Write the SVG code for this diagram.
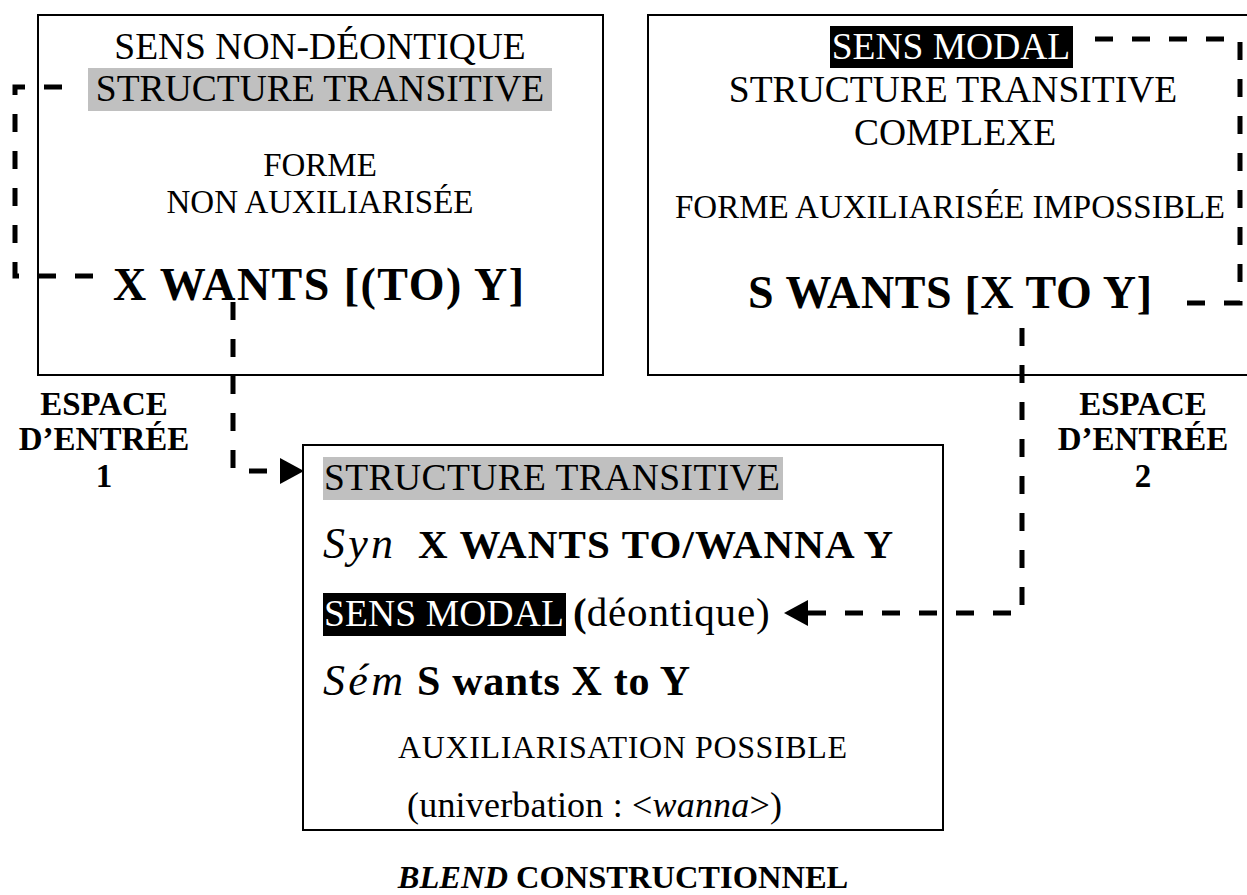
<svg xmlns="http://www.w3.org/2000/svg" width="1247" height="895" viewBox="0 0 1247 895">
  <style>
    text { font-family: "Liberation Serif", "Times New Roman", serif; fill: #000; }
    .box { fill: #fff; stroke: #000; stroke-width: 2; }
    .c { text-anchor: middle; }
    .r37 { font-size: 37.5px; }
    .r33 { font-size: 33px; }
    .big { font-size: 46px; font-weight: bold; }
    .hlg { fill: #c0c0c0; }
    .hlb { fill: #000; }
    .w { fill: #fff; }
    .lbl { font-size: 33px; font-weight: bold; text-anchor: middle; }
    .dash { fill: none; stroke: #000; stroke-width: 5; stroke-dasharray: 18 19; }
  </style>
  <defs>
    <marker id="arr" markerUnits="userSpaceOnUse" markerWidth="26" markerHeight="28" refX="0" refY="13" orient="auto">
      <path d="M0,0 L24,13 L0,26 z" fill="#000"/>
    </marker>
    <clipPath id="clip3">
      <rect x="303" y="445" width="640" height="381"/>
    </clipPath>
  </defs>

  <g id="espace1">
    <rect class="box" x="38" y="15" width="565" height="360"/>
    <text class="r37 c" x="320" y="59">SENS NON-DÉONTIQUE</text>
    <rect class="hlg" x="88" y="68" width="464" height="43"/>
    <text class="r37 c" x="320" y="101">STRUCTURE TRANSITIVE</text>
    <text class="r33 c" x="320" y="176">FORME</text>
    <text class="r33 c" x="320" y="213">NON AUXILIARISÉE</text>
    <text class="big" x="113" y="300" textLength="411">X WANTS [(TO) Y]</text>
  </g>

  <g id="espace2">
    <rect class="box" x="648" y="15" width="612" height="360"/>
    <rect class="hlb" x="830" y="26" width="243" height="42"/>
    <text class="r37 c w" x="951" y="59">SENS MODAL</text>
    <text class="r37 c" x="953" y="102">STRUCTURE TRANSITIVE</text>
    <text class="r37 c" x="955" y="145">COMPLEXE</text>
    <text class="r33 c" x="950" y="218">FORME AUXILIARISÉE IMPOSSIBLE</text>
    <text class="big" x="748" y="308" textLength="404">S WANTS [X TO Y]</text>
  </g>

  <g id="blend">
    <rect class="box" x="303" y="445" width="640" height="385"/>
    <rect class="hlg" x="323" y="457" width="460" height="43"/>
    <text class="r37" x="324" y="490" textLength="456">STRUCTURE TRANSITIVE</text>
    <text x="323" y="558" font-size="44" font-style="italic" textLength="70">Syn</text>
    <text x="418" y="558" font-size="41" font-weight="bold" textLength="475">X WANTS TO/WANNA Y</text>
    <rect class="hlb" x="323" y="593" width="243" height="43"/>
    <text class="r37 w" x="324" y="626" textLength="240">SENS MODAL</text>
    <text x="573" y="626" font-size="41"><tspan font-weight="bold">(</tspan><tspan textLength="183">déontique)</tspan></text>
    <text x="323" y="695" font-size="44" font-style="italic" textLength="80">Sém</text>
    <text x="417" y="695" font-size="42" font-weight="bold" textLength="273">S wants X to Y</text>
    <text x="398" y="758" font-size="32" textLength="449">AUXILIARISATION POSSIBLE</text>
    <g clip-path="url(#clip3)">
      <text x="407" y="817" font-size="36" textLength="375">(univerbation : &lt;<tspan font-style="italic">wanna</tspan>&gt;)</text>
    </g>
  </g>

  <g id="label-espace1">
    <text class="lbl" x="104" y="415">ESPACE</text>
    <text class="lbl" x="104" y="450">D’ENTRÉE</text>
    <text class="lbl" x="104" y="487" font-size="28">1</text>
  </g>

  <g id="label-espace2">
    <text class="lbl" x="1143" y="415">ESPACE</text>
    <text class="lbl" x="1143" y="450">D’ENTRÉE</text>
    <text class="lbl" x="1143" y="487" font-size="28">2</text>
  </g>

  <g id="label-blend">
    <text x="623" y="888" font-size="32.5" font-weight="bold" text-anchor="middle"><tspan font-style="italic">BLEND</tspan> CONSTRUCTIONNEL</text>
  </g>

  <g id="connectors">
    <path class="dash" d="M62,87 H15 V276 H111" stroke-dasharray="10 30 26 19 20 18 19 16 20 17 22 16 10 30 16 20 23 40"/>
    <path class="dash" d="M233,302 V471 H280" stroke-dasharray="20 21" marker-end="url(#arr)"/>
    <path class="dash" d="M1095,39 H1240 V303 H1182"/>
    <path class="dash" d="M1022,328 V613 H808" stroke-dasharray="18 19 18 19 18 19 18 19 18 19 18 19 18 19 18 5 21 19 18 19 18 19 18 19 18 19 18 40" marker-end="url(#arr)"/>
  </g>
</svg>
